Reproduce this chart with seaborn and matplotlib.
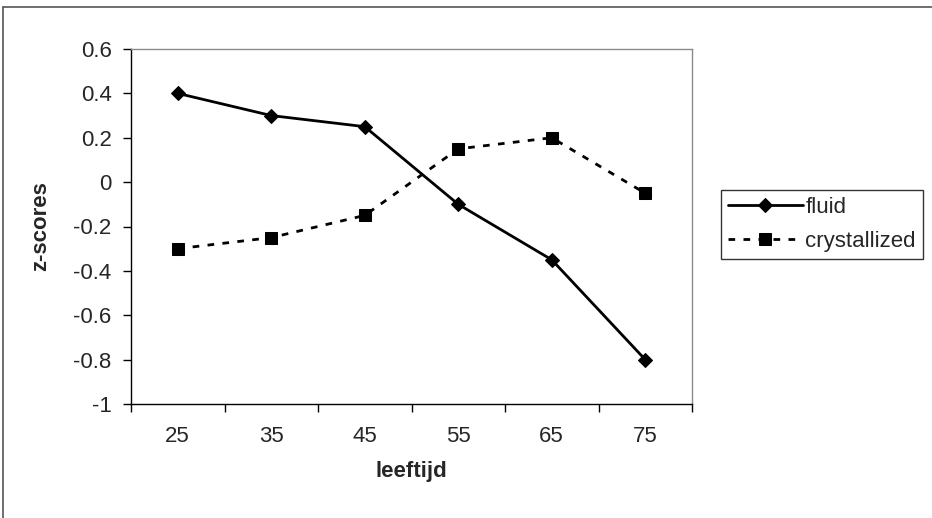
import matplotlib
matplotlib.use("Agg")
import matplotlib.pyplot as plt
from matplotlib.lines import Line2D
import seaborn as sns
import pandas as pd
import numpy as np

categories = ["25", "35", "45", "55", "65", "75"]
fluid = [0.40, 0.30, 0.25, -0.10, -0.35, -0.80]
crystallized = [-0.30, -0.25, -0.15, 0.15, 0.20, -0.05]
y_ticks = [-1, -0.8, -0.6, -0.4, -0.2, 0, 0.2, 0.4, 0.6]
y_tick_labels = ["-1", "-0.8", "-0.6", "-0.4", "-0.2", "0", "0.2", "0.4", "0.6"]

sns.set_style("white")
plt.rcParams["font.family"] = ["Liberation Sans", "DejaVu Sans"]
FS = 16

W, H = 932, 518
fig = plt.figure(figsize=(W / 100, H / 100), dpi=100)
ax = fig.add_axes([131 / W, 1 - 404 / H, (692 - 131) / W, (404 - 49) / H])

pos = np.arange(len(categories))
df = pd.DataFrame({"pos": pos, "fluid": fluid, "crystallized": crystallized})

sns.lineplot(data=df, x="pos", y="fluid", ax=ax, color="black", lw=2.0,
             marker="D", markersize=7.5, markeredgecolor="black", label="fluid")
sns.lineplot(data=df, x="pos", y="crystallized", ax=ax, color="black", lw=2.0,
             marker="s", markersize=8, markeredgecolor="black",
             dashes=False, label="crystallized")
ax.lines[-1].set_dashes([2.4, 3.0])

ax.set_xlim(-0.5, len(categories) - 0.5)
ax.set_ylim(-1, 0.6)
ax.set_yticks(y_ticks)
ax.set_yticklabels(y_tick_labels, fontsize=FS)

ax.set_xticks(np.arange(len(categories) + 1) - 0.5)
ax.set_xticklabels([""] * (len(categories) + 1))
ax.set_xticks(pos, minor=True)
ax.set_xticklabels(categories, minor=True, fontsize=FS)
ax.tick_params(axis="x", which="minor", length=0, pad=16)
ax.tick_params(axis="x", which="major", length=6, width=1, direction="out", color="black")
ax.tick_params(axis="y", length=6, width=1, direction="out", color="black", pad=8)
ax.tick_params(left=True, bottom=True)

ax.set_xlabel("leeftijd", fontsize=FS, fontweight="bold", labelpad=10)
ax.set_ylabel("z-scores", fontsize=FS, fontweight="bold", labelpad=16)

for s in ["left", "bottom"]:
    ax.spines[s].set_color("black")
    ax.spines[s].set_linewidth(1.0)
for s in ["top", "right"]:
    ax.spines[s].set_color("#8a8a8a")
    ax.spines[s].set_linewidth(1.0)

ax.get_legend().remove()
handles, labels = ax.get_legend_handles_labels()
leg = fig.legend(handles, labels, loc="center left",
                 bbox_to_anchor=(721 / W, 1 - 224.5 / H),
                 fontsize=FS, frameon=True, fancybox=False, shadow=False,
                 handlelength=3.4, handletextpad=0.1, borderpad=0.3,
                 labelspacing=0.6, borderaxespad=0)
leg.get_frame().set_edgecolor("black")
leg.get_frame().set_linewidth(1.0)

# outer chart border (left and top visible)
fig.add_artist(Line2D([3 / W, 3 / W], [0, 1 - 7 / H], transform=fig.transFigure,
                      color="#555555", lw=1.2))
fig.add_artist(Line2D([3 / W, 1], [1 - 7 / H, 1 - 7 / H], transform=fig.transFigure,
                      color="#555555", lw=1.2))

fig.savefig("out.png", dpi=100)
